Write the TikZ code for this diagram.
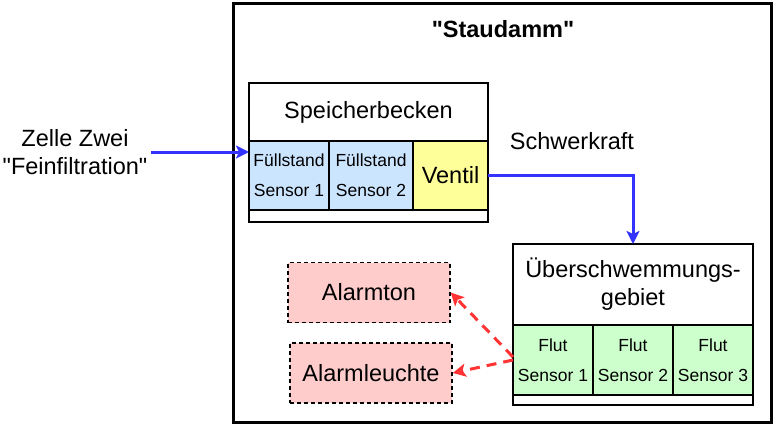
\documentclass[tikz,border=0pt]{standalone}
\usepackage{fontspec}
\setmainfont{Liberation Sans}[Ligatures=TeXOff]
\usetikzlibrary{arrows.meta,positioning}

\definecolor{flowblue}{HTML}{3333FF}
\definecolor{alertred}{HTML}{FF3333}
\definecolor{levelblue}{HTML}{CCE5FF}
\definecolor{valveyellow}{HTML}{FFFF99}
\definecolor{floodgreen}{HTML}{CCFFCC}
\definecolor{alarmpink}{HTML}{FFCCCC}

\begin{document}
\begin{tikzpicture}[x=1pt, y=-1pt,
  font=\fontsize{23.5}{28}\selectfont,
  small/.style={font=\fontsize{17.5}{30}\selectfont},
  cell/.style={draw=black, line width=2pt, inner sep=0pt, outer sep=0pt,
    align=center},
  alarm/.style={draw=black, line width=1.5pt, dash pattern=on 4pt off 3pt,
    fill=alarmpink, minimum width=162pt, minimum height=60pt, inner sep=0pt},
  flow/.style={-{Stealth[length=13pt, width=13pt, inset=3pt]}, line width=3pt,
    draw=flowblue},
  warn/.style={-{Stealth[length=13pt, width=13pt, inset=3pt]}, line width=3pt,
    draw=alertred, dash pattern=on 10pt off 7pt}
]
  \useasboundingbox (0,0) rectangle (776,426);

  \node[draw=black, line width=3pt, minimum width=538pt, minimum height=419pt]
    (dam) at (502,213) {};
  \node[font=\bfseries\fontsize{23.5}{28}\selectfont] (title) at (503,29) {"Staudamm"};

  % Speicherbecken
  \node[cell, anchor=north west, minimum width=239pt, minimum height=58pt]
    (basin) at (249,83) {Speicherbecken};
  \node[cell, small, fill=levelblue, minimum width=80pt, minimum height=69pt,
    below right=0pt and 0pt of basin.south west] (level1) {Füllstand\\Sensor 1};
  \node[cell, small, fill=levelblue, minimum width=84pt, minimum height=69pt,
    right=0pt of level1] (level2) {Füllstand\\Sensor 2};
  \node[cell, fill=valveyellow, minimum width=75pt, minimum height=69pt,
    right=0pt of level2] (valve) {Ventil};
  \node[cell, minimum width=239pt, minimum height=12pt,
    below right=0pt and 0pt of level1.south west] (basinfoot) {};

  % Überschwemmungsgebiet
  \node[cell, anchor=north west, minimum width=240pt, minimum height=81pt]
    (flood) at (513,244) {Überschwemmungs-\\gebiet};
  \node[cell, small, fill=floodgreen, minimum width=80pt, minimum height=70pt,
    below right=0pt and 0pt of flood.south west] (flut1) {Flut\\Sensor 1};
  \node[cell, small, fill=floodgreen, minimum width=80pt, minimum height=70pt,
    right=0pt of flut1] (flut2) {Flut\\Sensor 2};
  \node[cell, small, fill=floodgreen, minimum width=80pt, minimum height=70pt,
    right=0pt of flut2] (flut3) {Flut\\Sensor 3};
  \node[cell, minimum width=240pt, minimum height=10pt,
    below right=0pt and 0pt of flut1.south west] (floodfoot) {};

  \node[alarm] (tone) at (369,292.5) {Alarmton};
  \node[alarm] (light) at (371,373) {Alarmleuchte};

  \node[align=center] (input) at (75,152) {Zelle Zwei\\"Feinfiltration"};
  \node (gravity) at (572,141) {Schwerkraft};

  \draw[flow] (input.east) -- (input.east -| basin.west);
  \draw[flow] (valve.east) -| (flood.north);
  \draw[warn] (flut1.west) ++(0,-3) -- (tone.east);
  \draw[warn] (flut1.west) -- (light.east);
\end{tikzpicture}
\end{document}
